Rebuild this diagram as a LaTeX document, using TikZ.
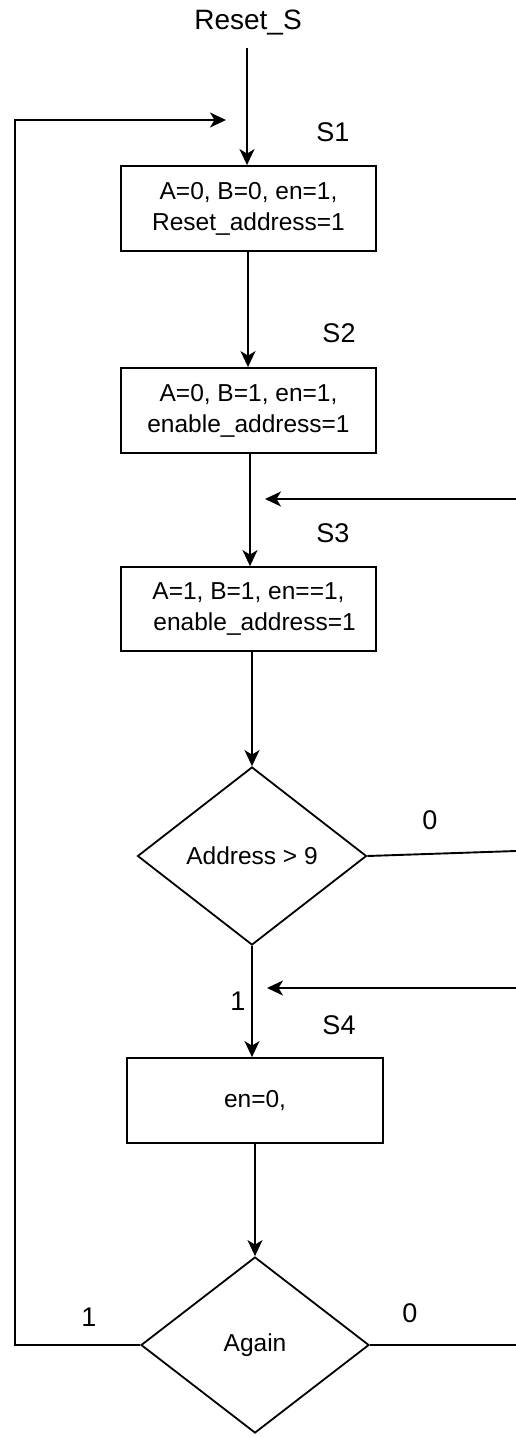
\documentclass[tikz,border=0pt]{standalone}
\usepackage{fontspec}
\setmainfont{Liberation Sans}
\usetikzlibrary{shapes.geometric,arrows.meta}
\begin{document}
\begin{tikzpicture}[x=1pt,y=-1pt,
  box/.style={draw, line width=1.8pt, minimum width=255pt, minimum height=85pt, inner sep=0pt, align=center, font=\fontsize{24.5}{31}\selectfont},
  dec/.style={draw, diamond, line width=1.8pt, minimum width=229pt, minimum height=178pt, inner sep=0pt, font=\fontsize{24.5}{30}\selectfont},
  lbl/.style={inner sep=0pt, font=\fontsize{27}{32}\selectfont},
  arr/.style={line width=1.9pt, -{Stealth[length=16pt,width=15pt,inset=4.5pt]}},
  ln/.style={line width=1.9pt}]
\useasboundingbox (0,0) rectangle (516,1438);

\node[lbl, font=\fontsize{28}{32}\selectfont] (reset) at (248,23) {Reset\_S};

\node[box] (s1) at (248.5,208.5) {A=0, B=0, en=1,\\Reset\_address=1};
\node[box] (s2) at (248.5,410.5) {A=0, B=1, en=1,\\enable\_address=1};
\node[box, minimum height=84pt] (s3) at (248.5,609) {A=1, B=1, en==1,\\\hspace*{0.5em}enable\_address=1};
\node[dec] (d1) at (252,856) {Address > 9};
\node[box, minimum width=256pt] (s4) at (255,1100.5) {en=0,};
\node[dec, minimum width=228pt, minimum height=176pt] (d2) at (255,1345) {Again};

\node[lbl] (l1) at (333,132) {S1};
\node[lbl] (l2) at (339,333) {S2};
\node[lbl] (l3) at (333,533) {S3};
\node[lbl] (l4) at (339,1025) {S4};
\node[lbl] (z1) at (430,820) {0};
\node[lbl] (o1) at (238,1001) {1};
\node[lbl] (o2) at (89,1317) {1};
\node[lbl] (z2) at (410,1313) {0};

\coordinate (loopin) at (226,120);
\coordinate (in3) at (516,499);
\coordinate (tip3) at (265,499);
\coordinate (in4) at (516,988);
\coordinate (tip4) at (267,988);
\coordinate (out1) at (516,851);
\coordinate (out2) at (516,1345);

\draw[arr, shorten <=12pt] (reset.south -| 247,0) -- (247,0 |- s1.north);
\draw[arr] (248,0 |- s1.south) -- (248,0 |- s2.north);
\draw[arr] (250,0 |- s2.south) -- (250,0 |- s3.north);
\draw[arr] (s3.south -| d1.north) -- (d1.north);
\draw[arr] (d1.south) -- (d1.south |- s4.north);
\draw[arr] (s4.south -| d2.north) -- (d2.north);

\draw[arr] (d2.west) -- (15,1345) -- (15,120) -- (loopin);
\draw[arr] (in3) -- (tip3);
\draw[arr] (in4) -- (tip4);
\draw[ln] (d1.east) -- (out1);
\draw[ln] (d2.east) -- (out2);
\end{tikzpicture}
\end{document}
